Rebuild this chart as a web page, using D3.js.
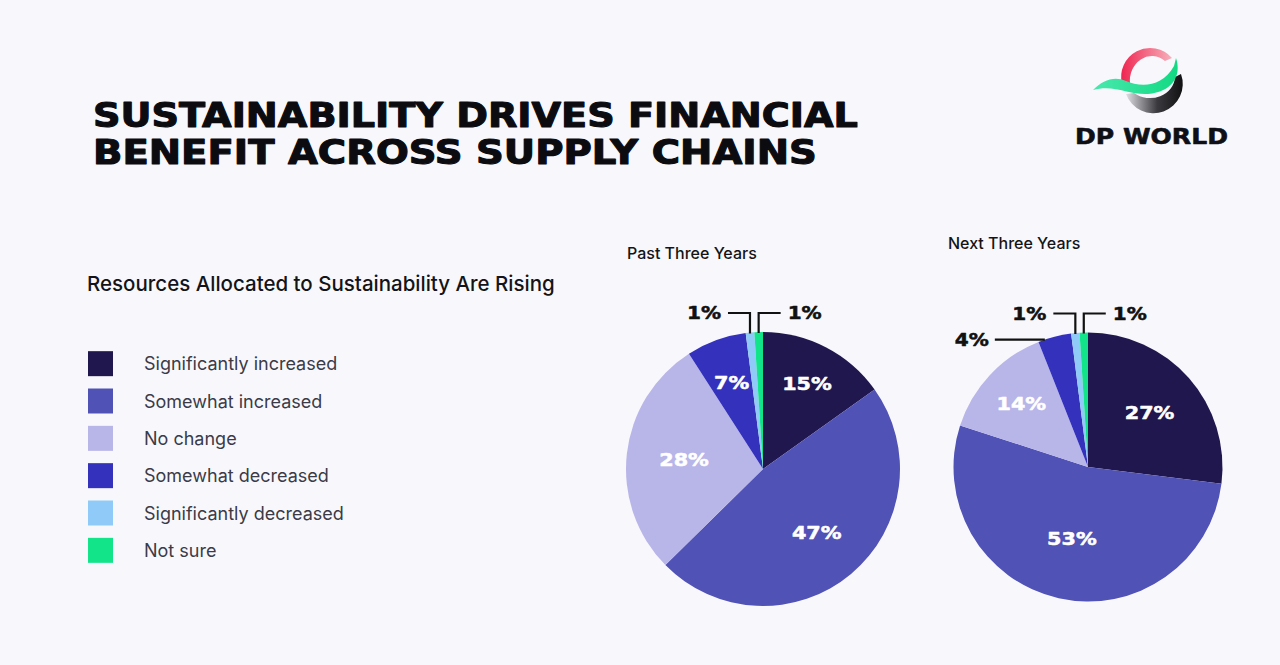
<!DOCTYPE html>
<html><head><meta charset="utf-8">
<script src="https://cdn.jsdelivr.net/npm/d3@7/dist/d3.min.js"></script>
<style>
html,body{margin:0;padding:0;background:#f8f8fc;}
svg{display:block;}
</style></head>
<body>
<svg id="chart" width="1280" height="665"></svg>
<script>
// ---- data ----
const categories = ["Significantly increased","Somewhat increased","No change","Somewhat decreased","Significantly decreased","Not sure"];
const pastValues = [15, 47, 28, 7, 1, 1];
const nextValues = [27, 53, 14, 4, 1, 1];
const chartTitles = ["Past Three Years", "Next Three Years"];
const colors = ["#21174f","#5152b5","#b8b5e8","#3431bd","#8fcaf8","#12e48a"];

// ---- layout ----
const W = 1280, H = 665;
const svg = d3.select("#chart");
svg.append("rect").attr("width",W).attr("height",H).attr("fill","#f8f8fc");

const wideFont = "'DejaVu Sans', sans-serif";
// draw wide text: scale glyphs horizontally
function wideText(parent, txt, x, y, size, fill, opts){
  opts = opts || {};
  const g = parent.append("g");
  const t = g.append("text").text(txt)
    .attr("font-family",wideFont).attr("font-weight","bold")
    .attr("font-size",size).attr("fill",fill)
    .attr("stroke", fill).attr("stroke-width", opts.stroke || 0)
    .attr("stroke-linejoin","round")
    .attr("text-anchor", opts.anchor || "start");
  const len = t.node().getComputedTextLength();
  const s = opts.width ? opts.width/len : (opts.scale || 1.2);
  g.attr("transform",`translate(${x},${y}) scale(${s},1)`);
  return g;
}

// title
wideText(svg, "SUSTAINABILITY DRIVES FINANCIAL", 93, 127, 33, "#0b0b10", {width:765, stroke:1.1});
wideText(svg, "BENEFIT ACROSS SUPPLY CHAINS", 93, 164, 33, "#0b0b10", {width:724, stroke:1.1});

// logo
const logo = svg.append("g");
const defs = svg.append("defs");
const lg = defs.append("linearGradient").attr("id","blk").attr("x1","0%").attr("x2","100%").attr("y1","0%").attr("y2","0%");
lg.append("stop").attr("offset","0%").attr("stop-color","#e0e0e4");
lg.append("stop").attr("offset","55%").attr("stop-color","#3a3a3e");
lg.append("stop").attr("offset","100%").attr("stop-color","#111114");
const rg = defs.append("linearGradient").attr("id","red").attr("x1","0%").attr("x2","100%");
rg.append("stop").attr("offset","0%").attr("stop-color","#ef2550");
rg.append("stop").attr("offset","100%").attr("stop-color","#f7b0bc");
const gg = defs.append("linearGradient").attr("id","grn").attr("x1","0%").attr("x2","100%");
gg.append("stop").attr("offset","0%").attr("stop-color","#4ae8ad");
gg.append("stop").attr("offset","100%").attr("stop-color","#12d983");
logo.append("path").attr("d","M1122,84 A29,29 0 0 1 1172,58 L1165,61 A22,25 0 0 0 1130,84 Z").attr("fill","url(#red)");
logo.append("path").attr("d","M1126,94 A29,29 0 0 0 1181,74 L1175,77 A25,22 0 0 1 1134,93 Z").attr("fill","url(#blk)");
logo.append("path").attr("d","M1093,90 C1103,80 1114,76 1126,81 C1140,87 1162,88 1174,66 L1176,58 C1182,76 1172,92 1148,94 C1128,95 1114,84 1093,90 Z").attr("fill","url(#grn)");
wideText(svg, "DP WORLD", 1075, 144, 22, "#0f0f16", {width:153, stroke:0.6});

// subtitle + legend
svg.append("text").attr("x",87).attr("y",291).text("Resources Allocated to Sustainability Are Rising")
  .attr("font-family","Inter, sans-serif").attr("font-weight",500).attr("font-size",20.5).attr("fill","#141418");

const legendY = d3.scaleBand().domain(categories).range([345, 569]);
const leg = svg.append("g").selectAll("g").data(categories).join("g")
  .attr("transform", d => `translate(88,${legendY(d) + (legendY.bandwidth()-25)/2})`);
leg.append("rect").attr("width",25).attr("height",25).attr("fill",(d,i)=>colors[i]);
leg.append("text").attr("x",56).attr("y",19).text(d=>d)
  .attr("font-family","Inter, sans-serif").attr("font-size",18).attr("fill","#3b3b48");

// pies
const pies = [
  {values: pastValues, title: chartTitles[0], cx:763, cy:469, r:137, tx:627, ty:259,
   labelR:[0.70,0.61,0.58,0.67],
   outside:[ {i:4, side:-1}, {i:5, side:1} ]},
  {values: nextValues, title: chartTitles[1], cx:1088, cy:467, r:134.5, tx:948, ty:249,
   labelR:[0.61,0.55,0.68],
   outside:[ {i:3, side:-1, horiz:true}, {i:4, side:-1}, {i:5, side:1} ]}
];

const pie = d3.pie().sort(null).value(d=>d);

pies.forEach(p => {
  const g = svg.append("g").attr("transform",`translate(${p.cx},${p.cy})`);
  const arcs = pie(p.values);
  const arc = d3.arc().innerRadius(0).outerRadius(p.r);
  g.selectAll("path").data(arcs).join("path").attr("d",arc).attr("fill",(d,i)=>colors[i]);

  svg.append("text").attr("x",p.tx).attr("y",p.ty).text(p.title)
    .attr("font-family","Inter, sans-serif").attr("font-weight",500).attr("font-size",16).attr("fill","#141418");

  // inside labels
  arcs.forEach((a,i) => {
    if (i >= p.labelR.length) return;
    const mid = (a.startAngle + a.endAngle)/2;
    const rr = p.r * p.labelR[i];
    const x = rr*Math.sin(mid), y = -rr*Math.cos(mid);
    wideText(g, p.values[i]+"%", x, y+6, 17, "#ffffff", {anchor:"middle", scale:1.22, stroke:0.5});
  });

  // outside labels with leader lines
  const topY = -p.r - 19;
  p.outside.forEach(o => {
    const a = arcs[o.i];
    if (o.horiz) {
      const ang = a.startAngle + (a.endAngle - a.startAngle)*0.2;
      const ex = p.r*Math.sin(ang), ey = -p.r*Math.cos(ang);
      const x0 = ex - 50;
      g.append("path").attr("d",`M${ex},${ey}H${x0}`).attr("stroke","#111").attr("stroke-width",2.2).attr("fill","none");
      wideText(g, p.values[o.i]+"%", x0-6, ey+6, 17, "#111", {anchor:"end", scale:1.18, stroke:0.5});
    } else {
      const mid = (a.startAngle + a.endAngle)/2;
      const ex = p.r*Math.sin(mid), ey = -p.r*Math.cos(mid);
      const x1 = ex + o.side*22;
      g.append("path").attr("d",`M${ex},${ey+1}V${topY}H${x1}`).attr("stroke","#111").attr("stroke-width",2.2).attr("fill","none");
      wideText(g, p.values[o.i]+"%", x1 + o.side*7, topY+6, 17, "#111", {anchor: o.side<0 ? "end" : "start", scale:1.18, stroke:0.5});
    }
  });
});
</script>
</body></html>
